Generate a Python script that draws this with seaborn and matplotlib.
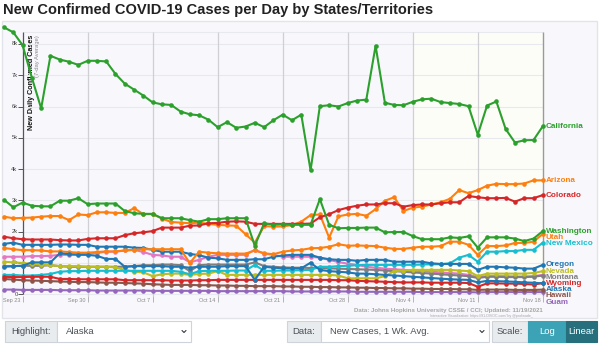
import numpy as np
import pandas as pd
import matplotlib
matplotlib.use("Agg")
import matplotlib.pyplot as plt
import matplotlib.transforms as mtransforms
from matplotlib.patches import Rectangle
import seaborn as sns

# ---- data: 7-day average of new confirmed cases, in thousands ----
dates = pd.date_range("2021-09-21", "2021-11-18", freq="D")

california = [8.53, 8.37, 7.96, 6.92, 5.94, 7.62, 7.50, 7.43, 7.33, 7.46, 7.46, 7.44, 7.04, 6.73, 6.54, 6.35,
              6.13, 6.07, 6.05, 5.84, 5.75, 5.72, 5.58, 5.34, 5.50, 5.32, 5.36, 5.48, 5.34, 5.56, 5.74, 5.56,
              5.74, 3.96, 6.01, 6.04, 6.00, 6.11, 6.19, 6.22, 7.94, 6.12, 6.05, 6.04, 6.15, 6.23, 6.25, 6.14,
              6.11, 6.08, 6.01, 5.10, 6.03, 6.16, 5.28, 4.85, 4.92, 4.93, 5.37]
arizona = [2.48, 2.43, 2.44, 2.45, 2.48, 2.50, 2.50, 2.37, 2.55, 2.53, 2.62, 2.62, 2.60, 2.60, 2.75, 2.56,
           2.56, 2.42, 2.31, 2.29, 2.27, 2.29, 2.25, 2.22, 2.20, 2.19, 1.92, 1.65, 2.18, 2.16, 2.17, 2.21,
           2.32, 2.53, 2.55, 1.81, 2.49, 2.55, 2.57, 2.51, 2.72, 2.99, 3.10, 2.66, 2.77, 2.80, 2.87, 2.94,
           3.05, 3.33, 3.23, 3.33, 3.47, 3.53, 3.52, 3.52, 3.54, 3.64, 3.64]
colorado = [1.84, 1.79, 1.76, 1.75, 1.75, 1.75, 1.73, 1.72, 1.72, 1.77, 1.79, 1.79, 1.79, 1.89, 1.95, 1.98,
            2.02, 2.13, 2.13, 2.13, 2.19, 2.20, 2.27, 2.28, 2.32, 2.33, 2.32, 2.25, 2.25, 2.25, 2.25, 2.25,
            2.25, 2.26, 2.46, 2.56, 2.69, 2.77, 2.83, 2.87, 2.87, 2.91, 2.91, 2.80, 2.85, 2.87, 2.87, 2.91,
            2.94, 2.94, 3.14, 3.10, 3.07, 3.07, 3.08, 2.96, 3.07, 3.07, 3.17]
washington = [3.02, 2.78, 2.93, 2.83, 2.81, 2.81, 2.99, 2.99, 3.07, 2.88, 2.90, 2.90, 2.90, 2.66, 2.59, 2.57,
              2.57, 2.43, 2.43, 2.43, 2.37, 2.32, 2.40, 2.40, 2.43, 2.43, 2.43, 1.55, 2.27, 2.22, 2.24, 2.22,
              2.22, 2.22, 3.04, 2.22, 2.11, 2.12, 2.12, 2.13, 2.13, 1.98, 1.99, 1.99, 1.86, 1.76, 1.76, 1.76,
              1.82, 1.80, 1.85, 1.49, 1.82, 1.82, 1.82, 1.78, 1.70, 1.78, 2.02]
utah = [1.48, 1.44, 1.41, 1.41, 1.40, 1.37, 1.37, 1.35, 1.33, 1.33, 1.35, 1.37, 1.37, 1.40, 1.42, 1.44,
        1.44, 1.44, 1.44, 1.44, 1.00, 1.36, 1.33, 1.31, 1.30, 1.30, 1.30, 1.40, 1.31, 1.28, 1.36, 1.40,
        1.42, 1.47, 1.48, 1.52, 1.60, 1.55, 1.56, 1.55, 1.54, 1.49, 1.45, 1.45, 1.49, 1.52, 1.52, 1.54,
        1.68, 1.68, 1.58, 1.26, 1.54, 1.54, 1.56, 1.64, 1.64, 1.68, 1.93]
new_mexico = [0.62, 0.62, 0.60, 0.60, 0.62, 0.65, 0.72, 0.74, 0.74, 0.75, 0.75, 0.75, 0.75, 0.75, 0.75, 0.75,
              0.75, 0.75, 0.75, 0.72, 0.64, 0.74, 0.75, 0.75, 0.75, 0.76, 0.76, 0.94, 0.75, 0.75, 0.76, 0.76,
              0.77, 0.78, 0.88, 0.88, 0.90, 0.91, 0.93, 0.94, 0.94, 0.94, 0.94, 0.94, 0.94, 0.95, 0.96, 0.96,
              0.99, 1.17, 1.26, 1.04, 1.36, 1.36, 1.38, 1.38, 1.42, 1.42, 1.65]
oregon = [1.61, 1.65, 1.58, 1.58, 1.58, 1.58, 1.59, 1.59, 1.58, 1.58, 1.52, 1.52, 1.52, 1.52, 1.49, 1.48,
          1.42, 1.36, 1.36, 1.36, 1.29, 1.25, 1.17, 1.15, 1.10, 1.10, 1.10, 1.12, 1.12, 1.20, 1.24, 1.26,
          1.26, 1.26, 1.17, 1.12, 1.10, 1.10, 1.07, 1.10, 1.10, 1.10, 1.04, 1.04, 1.04, 1.04, 0.99, 0.97,
          0.97, 0.97, 0.97, 0.78, 0.88, 0.88, 0.86, 0.85, 0.82, 0.82, 0.94]
alaska = [0.88, 0.90, 0.91, 1.02, 1.02, 1.02, 1.31, 1.28, 1.26, 1.26, 1.23, 1.13, 1.13, 0.88, 0.90, 0.90,
          0.90, 0.90, 0.88, 0.88, 0.85, 0.88, 0.88, 0.88, 0.90, 0.90, 0.90, 0.46, 0.88, 0.85, 0.83, 0.83,
          0.83, 1.01, 0.78, 0.74, 0.72, 0.70, 0.66, 0.66, 0.64, 0.62, 0.60, 0.58, 0.56, 0.54, 0.52, 0.50,
          0.48, 0.47, 0.46, 0.38, 0.43, 0.42, 0.41, 0.40, 0.38, 0.37, 0.35]
idaho = [1.20, 1.20, 1.20, 1.22, 1.22, 1.23, 1.26, 1.26, 1.28, 1.30, 1.32, 1.36, 1.36, 1.40, 1.42, 1.35,
         1.26, 1.24, 1.20, 1.20, 1.02, 1.10, 1.20, 1.26, 1.26, 1.26, 1.26, 1.42, 1.30, 1.26, 1.20, 1.20,
         1.20, 1.20, 1.17, 1.10, 1.03, 0.98, 0.94, 0.88, 0.85, 0.82, 0.80, 0.78, 0.76, 0.74, 0.72, 0.70,
         0.68, 0.66, 0.62, 0.55, 0.58, 0.58, 0.58, 0.57, 0.57, 0.58, 0.62]
montana = [0.90, 0.90, 0.91, 0.91, 0.91, 0.93, 0.90, 0.88, 0.88, 0.88, 0.88, 0.88, 0.88, 0.88, 0.90, 0.93,
           0.93, 0.95, 0.95, 0.93, 0.74, 0.93, 0.95, 0.95, 0.95, 0.95, 0.95, 1.02, 0.90, 0.88, 0.86, 0.85,
           0.85, 0.84, 0.84, 0.83, 0.82, 0.81, 0.80, 0.79, 0.78, 0.76, 0.74, 0.72, 0.70, 0.68, 0.66, 0.64,
           0.62, 0.60, 0.58, 0.52, 0.56, 0.56, 0.55, 0.55, 0.55, 0.56, 0.60]
nevada = [1.04, 1.02, 1.00, 0.97, 0.95, 0.93, 0.90, 0.90, 0.90, 0.88, 0.88, 0.88, 0.86, 0.78, 0.72, 0.70,
          0.58, 0.64, 0.66, 0.66, 0.62, 0.65, 0.66, 0.74, 0.62, 0.62, 0.62, 0.62, 0.62, 0.62, 0.62, 0.62,
          0.62, 0.62, 0.62, 0.62, 0.60, 0.51, 0.51, 0.51, 0.51, 0.58, 0.74, 0.76, 0.78, 0.78, 0.78, 0.78,
          0.78, 0.76, 0.74, 0.58, 0.66, 0.66, 0.66, 0.66, 0.66, 0.68, 0.74]
wyoming = [0.56, 0.55, 0.55, 0.56, 0.56, 0.56, 0.49, 0.49, 0.48, 0.48, 0.48, 0.48, 0.48, 0.45, 0.45, 0.45,
           0.45, 0.45, 0.44, 0.44, 0.44, 0.45, 0.45, 0.46, 0.46, 0.46, 0.46, 0.46, 0.46, 0.46, 0.46, 0.46,
           0.46, 0.46, 0.46, 0.46, 0.45, 0.45, 0.43, 0.42, 0.41, 0.40, 0.39, 0.38, 0.38, 0.38, 0.37, 0.37,
           0.37, 0.37, 0.36, 0.24, 0.35, 0.35, 0.34, 0.34, 0.33, 0.31, 0.36]
hawaii = [0.49, 0.47, 0.45, 0.44, 0.43, 0.42, 0.41, 0.40, 0.39, 0.39, 0.38, 0.37, 0.37, 0.36, 0.35, 0.34,
          0.32, 0.31, 0.30, 0.30, 0.30, 0.29, 0.29, 0.28, 0.28, 0.27, 0.27, 0.26, 0.26, 0.26, 0.25, 0.25,
          0.24, 0.24, 0.23, 0.23, 0.22, 0.22, 0.21, 0.21, 0.20, 0.20, 0.19, 0.19, 0.18, 0.18, 0.17, 0.17,
          0.17, 0.16, 0.16, 0.14, 0.15, 0.15, 0.15, 0.14, 0.14, 0.14, 0.15]
guam = [0.15, 0.15, 0.14, 0.14, 0.14, 0.14, 0.13, 0.13, 0.13, 0.13, 0.12, 0.12, 0.12, 0.12, 0.12, 0.12,
        0.11, 0.11, 0.11, 0.11, 0.11, 0.11, 0.11, 0.10, 0.10, 0.10, 0.10, 0.10, 0.10, 0.10, 0.10, 0.09,
        0.09, 0.09, 0.09, 0.09, 0.09, 0.09, 0.08, 0.08, 0.08, 0.08, 0.08, 0.08, 0.08, 0.07, 0.07, 0.07,
        0.07, 0.07, 0.07, 0.06, 0.07, 0.07, 0.07, 0.07, 0.07, 0.07, 0.07]

state_names = ["Alaska", "Arizona", "California", "Colorado", "Guam", "Hawaii", "Idaho", "Montana",
               "Nevada", "New Mexico", "Oregon", "Utah", "Washington", "Wyoming"]
state_values = [alaska, arizona, california, colorado, guam, hawaii, idaho, montana,
                nevada, new_mexico, oregon, utah, washington, wyoming]
hidden_labels = ["Idaho"]
week_ticks = pd.date_range("2021-09-23", "2021-11-18", freq="7D")
tick_labels = ["Sep 23", "Sep 30", "Oct 7", "Oct 14", "Oct 21", "Oct 28", "Nov 4", "Nov 11", "Nov 18"]
y_ticks = [0, 1000, 2000, 3000, 4000, 5000, 6000, 7000, 8000]
y_tick_labels = ["0", "1k", "2k", "3k", "4k", "5k", "6k", "7k", "8k"]

df = pd.concat([pd.DataFrame({"date": dates, "cases": np.array(v) * 1000, "state": n})
                for n, v in zip(state_names, state_values)], ignore_index=True)

tab10 = sns.color_palette("tab10").as_hex()
palette = {n: tab10[i % 10] for i, n in enumerate(state_names)}

sns.set_theme(style="white")
plt.rcParams["font.family"] = ["Liberation Sans", "DejaVu Sans"]

W, H = 600, 346
fig = plt.figure(figsize=(W / 100, H / 100), dpi=100)
fig.patch.set_facecolor("white")

# pixel-space layer for the frame, titles and controls
ui = fig.add_axes([0, 0, 1, 1], zorder=0)
ui.set_xlim(0, W)
ui.set_ylim(H, 0)
ui.axis("off")

# data layer
ax = fig.add_axes([0, 0, 1, 1], zorder=1)
ax.patch.set_alpha(0)
ax.axis("off")
d0 = dates[0]
ax.set_xlim(d0 - pd.Timedelta(days=0.4306), d0 + pd.Timedelta(days=64.155))
ax.set_ylim(-1652, 9403)

grid_top, grid_bot = 8380, -60
start_tick, end_tick = week_ticks[0], week_ticks[-1]

# chart frame and background; the last two weeks get a faint warm tint
ui.add_patch(Rectangle((2, 21), 595, 297, fc="#f8f8fc", ec="#e3e3ea", lw=1.0))
ax.fill_between([pd.Timestamp("2021-11-04"), end_tick], 0, grid_top, color="#fdfdf8", lw=0, zorder=0)

# grid
ax.hlines(y_ticks + [grid_top], start_tick, end_tick, color="#e8e8ef", lw=0.8, zorder=0.5)
ax.vlines(week_ticks[1:-1], grid_bot, grid_top, color="#cfcfd4", lw=0.9, zorder=0.6)
ax.vlines([end_tick], grid_bot, grid_top, color="#9a9a9a", lw=1.0, zorder=0.6)
ax.vlines([start_tick], 0, grid_top, color="#555555", lw=0.9, zorder=0.7)

# y axis ticks & labels
ax.plot([start_tick] * len(y_ticks), y_ticks, marker=0, ms=3.5, mew=0.7, ls="none", color="#555555", zorder=0.7)
left_off = mtransforms.offset_copy(ax.transData, fig=fig, x=-5, y=0, units="dots")
for v, lab in zip(y_ticks, y_tick_labels):
    ax.text(start_tick, v, lab, transform=left_off, ha="right", va="center", fontsize=4.2, color="#444444", zorder=0.7)

# x ticks & labels
ax.plot(week_ticks, [grid_bot] * len(week_ticks), marker=3, ms=4, mew=0.6, ls="none", color="#aaaaaa", zorder=0.7)
x_off = mtransforms.offset_copy(ax.transData, fig=fig, x=-2.5, y=0, units="dots")
for d, lab in zip(week_ticks, tick_labels):
    ax.text(d, -190, lab, transform=x_off, ha="right", va="center", fontsize=4.0, color="#8a8a8a", zorder=0.7)

# series
draw_order = [n for n in state_names if n != "Alaska"] + ["Alaska"]
sns.lineplot(data=df, x="date", y="cases", hue="state", hue_order=draw_order, palette=palette,
             marker="o", markersize=3.3, markeredgewidth=0, linewidth=1.5, sort=False,
             legend=False, ax=ax, zorder=3)

# end-of-line labels, spread apart so they do not overlap
ends = sorted([(v[-1] * 1000, n) for n, v in zip(state_names, state_values) if n not in hidden_labels],
              reverse=True)
gap = 198
placed = []
prev = None
for val, n in ends:
    y = val if prev is None else min(val, prev - gap)
    placed.append((n, y))
    prev = y
right_off = mtransforms.offset_copy(ax.transData, fig=fig, x=3, y=0, units="dots")
for n, y in placed:
    ax.text(end_tick, y, n, transform=right_off, ha="left", va="center", fontsize=5.9,
            fontweight="bold", color=palette[n], zorder=4)

# titles
ui.text(3, 10, "New Confirmed COVID-19 Cases per Day by States/Territories", fontsize=10.55,
        fontweight="bold", color="#222222", ha="left", va="center")
ui.text(31.5, 35, "New Daily Confirmed Cases", rotation=90, ha="center", va="top", fontsize=5.2,
        fontweight="bold", color="#111111")
ui.text(38, 35, "(7-day Average)", rotation=90, ha="center", va="top", fontsize=4.2, color="#888888")
ui.text(543, 310.5, "Data: Johns Hopkins University CSSE / CCI; Updated: 11/19/2021", ha="right",
        va="center", fontsize=4.4, fontweight="bold", color="#a5a5a5")
ui.text(533, 315.6, "Interactive Visualization: https://91-DIVOC.com/ by @profwade_", ha="right",
        va="center", fontsize=2.6, color="#a5a5a5")

# control bar
def addon(x, w, text):
    ui.add_patch(Rectangle((x, 321), w, 21, fc="#e9ecef", ec="#ced4da", lw=0.8))
    ui.text(x + w / 2, 331.5, text, ha="center", va="center", fontsize=6.8, color="#495057")

def select(x, w, text):
    ui.add_patch(Rectangle((x, 321), w, 21, fc="white", ec="#ced4da", lw=0.8))
    ui.text(x + 9, 331.5, text, ha="left", va="center", fontsize=6.8, color="#495057")
    cx = x + w - 7
    ui.plot([cx - 2, cx, cx + 2], [330.5, 332.5, 330.5], color="#343a40", lw=0.8)

addon(5, 52, "Highlight:")
select(57, 134, "Alaska")
addon(287, 34, "Data:")
select(321, 168, "New Cases, 1 Wk. Avg.")
addon(492, 36, "Scale:")
ui.add_patch(Rectangle((528, 321), 38, 21, fc="#3ba3b5", ec="#3ba3b5", lw=0.8))
ui.text(547, 331.5, "Log", ha="center", va="center", fontsize=6.8, color="white")
ui.add_patch(Rectangle((566, 321), 31, 21, fc="#276f7c", ec="#276f7c", lw=0.8))
ui.text(581.5, 331.5, "Linear", ha="center", va="center", fontsize=6.8, color="white")

fig.savefig("out.png", dpi=100, facecolor="white")
